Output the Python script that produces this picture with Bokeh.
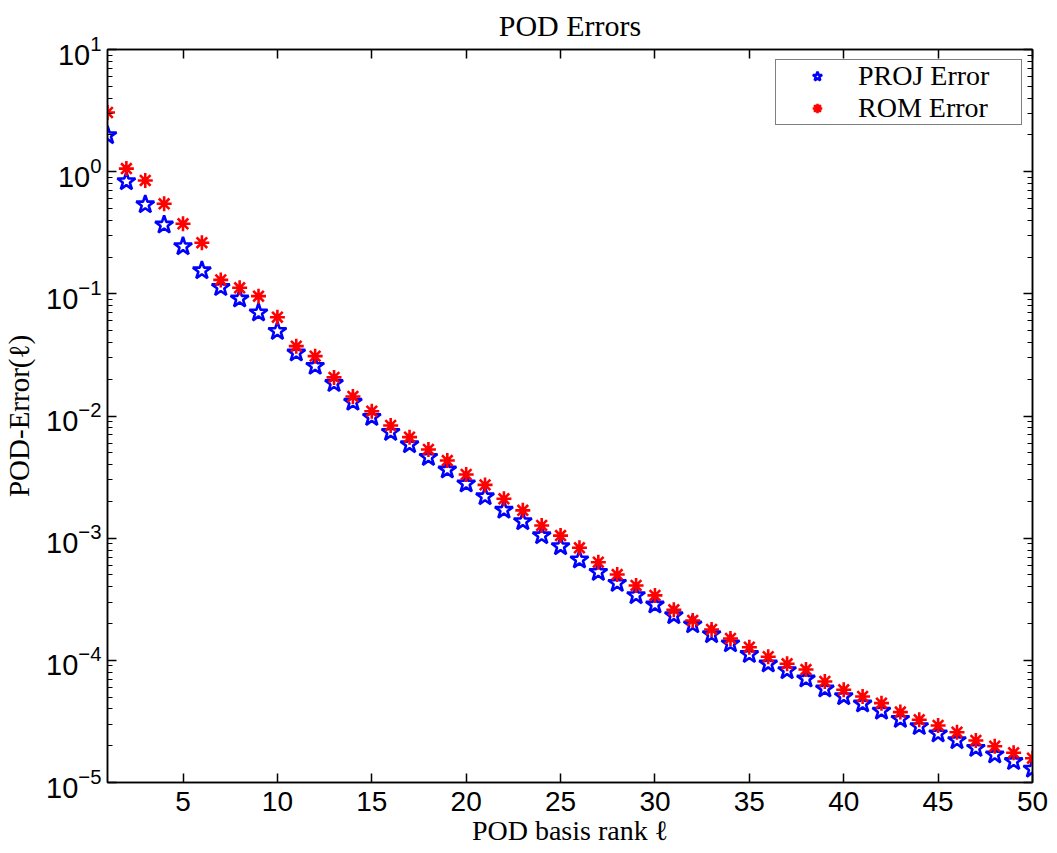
from bokeh.plotting import figure
from bokeh.models import (Range1d, LogAxis, LinearAxis, FixedTicker, LogTicker,
                          CustomJSTickFormatter, Legend, LegendItem)
from bokeh.embed import file_html
from bokeh.resources import INLINE

# POD basis rank and the two error curves
rank = list(range(1, 51))
proj_error = [1.98, 0.831, 0.538, 0.367, 0.244, 0.155, 0.113, 0.0911, 0.0700, 0.0495,
              0.0329, 0.0256, 0.0185, 0.0130, 0.00977, 0.00737, 0.00584, 0.00460, 0.00363, 0.00279,
              0.00219, 0.00170, 0.00137, 0.00105, 0.000855, 0.000666, 0.000527, 0.000428, 0.000340, 0.000285,
              0.000233, 0.000196, 0.000163, 0.000137, 0.000112, 0.0000937, 0.0000826, 0.0000706, 0.0000585, 0.0000506,
              0.0000441, 0.0000385, 0.0000330, 0.0000288, 0.0000251, 0.0000221, 0.0000191, 0.0000169, 0.0000149, 0.0000129]
rom_error = [3.05, 1.06, 0.847, 0.546, 0.3745, 0.262, 0.130, 0.112, 0.0957, 0.0644,
             0.0373, 0.0309, 0.0207, 0.01445, 0.01094, 0.00836, 0.00671, 0.00532, 0.00432, 0.00332,
             0.00273, 0.00210, 0.00169, 0.00127, 0.00105, 0.000834, 0.000636, 0.000504, 0.000410, 0.000340,
             0.000259, 0.000212, 0.000179, 0.000151, 0.000128, 0.000107, 0.0000937, 0.0000841, 0.0000671, 0.0000574,
             0.0000506, 0.0000446, 0.0000377, 0.0000326, 0.0000293, 0.0000258, 0.0000221, 0.0000198, 0.0000175, 0.0000158]

x_ticks = [5, 10, 15, 20, 25, 30, 35, 40, 45, 50]
series_names = ["PROJ Error", "ROM Error"]
title_text = "POD Errors"
x_label = "POD basis rank \u2113"
y_label = "POD-Error(\u2113)"

SERIF = "Liberation Serif"
SANS = "Liberation Sans"

p = figure(width=1057, height=853, y_axis_type="log",
           x_range=Range1d(1, 50), y_range=Range1d(1e-5, 10),
           output_backend="svg", toolbar_location=None,
           min_border_left=105, min_border_right=25,
           min_border_top=49, min_border_bottom=71,
           background_fill_color="white", border_fill_color="white")

p.grid.visible = False
p.outline_line_color = "black"
p.outline_line_width = 1.5

p.title.text = title_text
p.title.align = "center"
p.title.vertical_align = "top"
p.title.text_font = SERIF
p.title.text_font_size = "30px"
p.title.text_font_style = "normal"
p.title.text_color = "black"
p.title.standoff = 12


def style_ticks(ax):
    ax.axis_line_color = "black"
    ax.axis_line_width = 1.5
    ax.major_tick_line_color = "black"
    ax.major_tick_line_width = 1.5
    ax.minor_tick_line_color = "black"
    ax.minor_tick_line_width = 1.2
    ax.major_tick_in = 9
    ax.major_tick_out = 0
    ax.minor_tick_in = 5
    ax.minor_tick_out = 0


# left log axis
yax = p.yaxis[0]
yax.ticker = LogTicker(num_minor_ticks=10)
style_ticks(yax)
yax.major_label_standoff = 6
yax.major_label_text_font = SANS
yax.major_label_text_font_size = "29px"
yax.major_label_text_color = "black"
yax.axis_label = y_label
yax.axis_label_text_font = SERIF
yax.axis_label_text_font_size = "29px"
yax.axis_label_text_font_style = "normal"
yax.axis_label_text_color = "black"
yax.axis_label_standoff = 8

# bottom linear axis
xax = p.xaxis[0]
xax.ticker = FixedTicker(ticks=x_ticks, minor_ticks=[])
style_ticks(xax)
xax.major_label_standoff = 9
xax.major_label_text_font = SANS
xax.major_label_text_font_size = "28px"
xax.major_label_text_color = "black"
xax.axis_label = x_label
xax.axis_label_text_font = SERIF
xax.axis_label_text_font_size = "28px"
xax.axis_label_text_font_style = "normal"
xax.axis_label_text_color = "black"
xax.axis_label_standoff = 1

# tick marks on the right and top edges of the box
blank = CustomJSTickFormatter(code="return ''")
right_ax = LogAxis(ticker=LogTicker(num_minor_ticks=10), formatter=blank,
                   major_label_text_color=None, major_label_text_font_size="1px",
                   major_label_standoff=0)
style_ticks(right_ax)
p.add_layout(right_ax, "right")

top_ax = LinearAxis(ticker=FixedTicker(ticks=x_ticks, minor_ticks=[]), formatter=blank,
                    major_label_text_color=None, major_label_text_font_size="1px",
                    major_label_standoff=0)
style_ticks(top_ax)
p.add_layout(top_ax, "above")

# markers
r_proj = p.scatter(rank, proj_error, marker="star", size=19,
                   fill_color=None, line_color="#0000ff", line_width=2.6)
r_rom = p.scatter(rank, rom_error, marker="asterisk", size=15,
                  line_color="#ff0000", line_width=2.6)

legend = Legend(items=[LegendItem(label=series_names[0], renderers=[r_proj]),
                       LegendItem(label=series_names[1], renderers=[r_rom])],
                location="top_right", margin=10, padding=0, spacing=0,
                glyph_width=82, glyph_height=24, label_standoff=0,
                label_width=163, label_height=24,
                label_text_font=SERIF, label_text_font_size="28px",
                label_text_color="black",
                border_line_color="black", border_line_width=1.2,
                background_fill_color="white", background_fill_alpha=1.0)
p.add_layout(legend)

open("out.html", "w").write(file_html(p, INLINE))
